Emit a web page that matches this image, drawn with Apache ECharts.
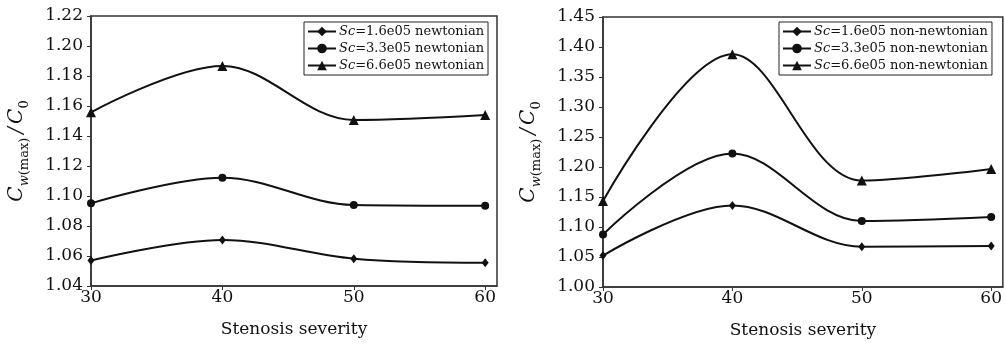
<!DOCTYPE html>
<html>
<head>
<meta charset="UTF-8">
<title></title>
<style>
	* { margin: 0; padding: 0; }
	html, body { width: 100%; height: 100%; background: #fff; overflow: hidden; }
	#chart { width: 1005px; height: 344px; }
</style>
</head>
<body>
<div id="chart"></div>
<script src="https://cdn.jsdelivr.net/npm/echarts@6/dist/echarts.min.js"></script>
<script>
	// stenosis severity
	var xValues = [30, 40, 50, 60];
	// newtonian (left panel)
	var newtLow = [1.057, 1.0707, 1.0582, 1.0555];
	var newtMid = [1.0951, 1.1122, 1.094, 1.0935];
	var newtHigh = [1.1558, 1.1867, 1.1507, 1.154];
	// non-newtonian (right panel)
	var nonLow = [1.0523, 1.136, 1.0672, 1.0682];
	var nonMid = [1.0875, 1.2225, 1.1101, 1.1168];
	var nonHigh = [1.1432, 1.3878, 1.1773, 1.1966];

	var scLabels = ['1.6e05', '3.3e05', '6.6e05'];
	var symbols = ['diamond', 'circle', 'triangle'];
	var symbolSizes = [[7, 9], 8, 10];

	var ink = '#111';
	var serif = 'DejaVu Serif';

	function pairs(ys) {
		return ys.map(function(y, i) { return [xValues[i], y]; });
	}

	function makeSeries(sets, kind, idx) {
		return sets.map(function(ys, i) {
			return {
				name: 'Sc=' + scLabels[i] + ' ' + kind,
				type: 'line',
				xAxisIndex: idx,
				yAxisIndex: idx,
				smooth: 0.35,
				symbol: symbols[i],
				symbolSize: symbolSizes[i],
				showAllSymbol: true,
				lineStyle: { color: ink, width: 2 },
				itemStyle: { color: ink },
				data: pairs(ys)
			};
		});
	}

	var yName = '{c|C}{si|w}{s|(max)}{m|/}{c|C}{s|0}';
	var yNameRich = {
		c: { fontFamily: serif, fontStyle: 'italic', fontSize: 20, color: ink, lineHeight: 28, verticalAlign: 'middle' },
		m: { fontFamily: serif, fontStyle: 'italic', fontSize: 20, color: ink, lineHeight: 28, verticalAlign: 'middle', padding: [0, 3, 0, 4] },
		si: { fontFamily: serif, fontStyle: 'italic', fontSize: 13, color: ink, lineHeight: 14, verticalAlign: 'bottom' },
		s: { fontFamily: serif, fontSize: 13, color: ink, lineHeight: 14, verticalAlign: 'bottom' }
	};

	function xAxis(idx) {
		return {
			type: 'value',
			gridIndex: idx,
			min: 30,
			max: 60.9,
			interval: 10,
			name: 'Stenosis severity',
			nameLocation: 'middle',
			nameGap: 35,
			nameTextStyle: { fontFamily: serif, fontSize: 17, color: ink },
			axisLine: { show: true, lineStyle: { color: '#333', width: 1.5 } },
			axisTick: { show: true, length: 4, lineStyle: { color: '#333' } },
			axisLabel: { fontFamily: serif, fontSize: 17, color: ink, margin: 3, showMaxLabel: false },
			splitLine: { show: false }
		};
	}

	function yAxis(idx, min, max, step) {
		return {
			type: 'value',
			gridIndex: idx,
			min: min,
			max: max,
			interval: step,
			name: yName,
			nameLocation: 'middle',
			nameRotate: 90,
			nameGap: 60,
			nameTextStyle: { rich: yNameRich },
			axisLine: { show: true, lineStyle: { color: '#333', width: 1.5 } },
			axisTick: { show: true, length: 4, lineStyle: { color: '#333' } },
			axisLabel: {
				fontFamily: serif, fontSize: 17, color: ink, margin: 8,
				formatter: function(v) { return v.toFixed(2); }
			},
			splitLine: { show: false }
		};
	}

	function legend(idx, left, names) {
		return {
			data: names,
			orient: 'vertical',
			left: left,
			top: 22,
			itemWidth: 28,
			itemHeight: 12,
			itemGap: 4,
			padding: [3, 4, 3, 3],
			borderColor: '#222',
			borderWidth: 1,
			backgroundColor: '#fff',
			selectedMode: false,
			formatter: function(name) { return name.replace('Sc', '{i|Sc}'); },
			textStyle: {
				fontFamily: serif, fontSize: 13, color: ink, padding: [0, 0, 0, -2],
				rich: { i: { fontFamily: serif, fontStyle: 'italic', fontSize: 13, color: ink } }
			}
		};
	}

	var leftSeries = makeSeries([newtLow, newtMid, newtHigh], 'newtonian', 0);
	var rightSeries = makeSeries([nonLow, nonMid, nonHigh], 'non-newtonian', 1);

	var chart = echarts.init(document.getElementById('chart'));
	chart.setOption({
		animation: false,
		backgroundColor: '#fff',
		grid: [
			{ left: 91, top: 16, width: 406, height: 270, show: true, borderColor: '#333', borderWidth: 1.5 },
			{ left: 603, top: 17, width: 410, height: 272, show: true, borderColor: '#333', borderWidth: 1.5 }
		],
		legend: [
			legend(0, 304, leftSeries.map(function(s) { return s.name; })),
			legend(1, 779, rightSeries.map(function(s) { return s.name; }))
		],
		xAxis: [xAxis(0), xAxis(1)],
		yAxis: [yAxis(0, 1.04, 1.22, 0.02), yAxis(1, 1.00, 1.45, 0.05)],
		series: leftSeries.concat(rightSeries)
	});
</script>
</body>
</html>
